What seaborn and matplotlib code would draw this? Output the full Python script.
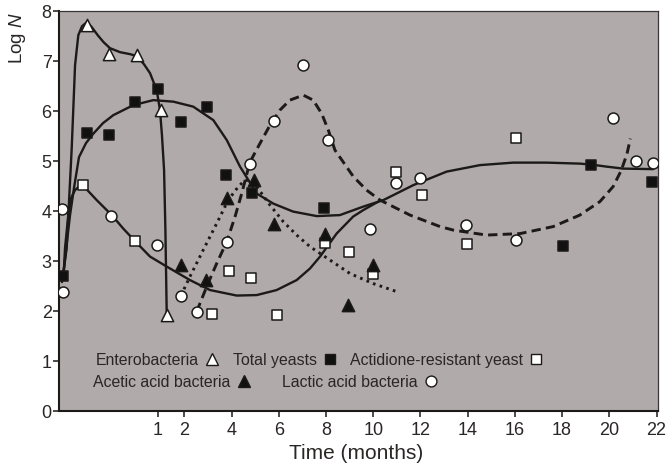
import numpy as np
import pandas as pd
import matplotlib
matplotlib.use("Agg")
import matplotlib.pyplot as plt
from matplotlib.lines import Line2D
import seaborn as sns

# ---------------- data (time in months, value = log N) ----------------
entero_t = [0.28, 0.51, 0.79, 1.11, 1.34]
entero_v = [7.72, 7.15, 7.13, 6.02, 1.92]

yeast_t = [0.04, 0.28, 0.51, 0.77, 1.02, 1.88, 2.95, 3.77, 4.85, 7.93, 18.05, 19.21, 21.79]
yeast_v = [2.70, 5.57, 5.52, 6.19, 6.45, 5.79, 6.09, 4.73, 4.37, 4.07, 3.31, 4.93, 4.59]

actid_t = [0.24, 0.77, 3.16, 3.91, 4.82, 5.94, 7.96, 8.99, 9.98, 10.95, 12.08, 13.96, 16.03]
actid_v = [4.53, 3.40, 1.95, 2.81, 2.66, 1.93, 3.37, 3.18, 2.74, 4.78, 4.32, 3.34, 5.47]

acetic_t = [1.88, 2.92, 3.82, 4.95, 5.81, 7.96, 8.95, 9.98]
acetic_v = [2.92, 2.63, 4.27, 4.63, 3.74, 3.55, 2.12, 2.92]

lactic_t = [0.03, 0.04, 0.53, 0.99, 1.87, 2.52, 3.80, 4.78, 5.80, 7.04, 8.10, 9.86,
            10.95, 11.98, 13.93, 16.03, 20.16, 21.13, 21.86]
lactic_v = [4.04, 2.39, 3.90, 3.32, 2.31, 1.99, 3.39, 4.94, 5.81, 6.92, 5.42, 3.65,
            4.57, 4.67, 3.72, 3.42, 5.87, 5.01, 4.97]

# fitted curves
c_entero_t = [0.027, 0.075, 0.126, 0.16, 0.193, 0.231, 0.28, 0.33, 0.39, 0.45, 0.515,
              0.617, 0.72, 0.79, 0.86, 0.922, 0.99, 1.086, 1.16, 1.24, 1.29, 1.34]
c_entero_v = [2.58, 3.26, 5.26, 6.92, 7.52, 7.70, 7.78, 7.68, 7.52, 7.38, 7.26,
              7.18, 7.14, 7.10, 6.94, 6.76, 6.42, 6.02, 5.52, 4.82, 3.62, 1.92]

c_yeast_t = [0.041, 0.068, 0.109, 0.149, 0.20, 0.271, 0.346, 0.444, 0.549, 0.752, 0.955,
             1.586, 2.38, 3.23, 3.80, 4.36, 5.07, 5.77, 6.61, 7.61, 8.59, 9.58, 10.43,
             11.70, 13.11, 14.52, 15.93, 17.34, 18.75, 19.25, 19.88, 20.59, 21.86]
c_yeast_v = [2.72, 3.22, 3.92, 4.46, 5.08, 5.36, 5.55, 5.76, 5.92, 6.12, 6.22,
             6.19, 6.09, 5.82, 5.42, 4.89, 4.35, 4.15, 3.99, 3.90, 3.92, 4.09, 4.22,
             4.52, 4.79, 4.92, 4.97, 4.97, 4.95, 4.93, 4.89, 4.85, 4.84]

c_actid_t = [0.041, 0.058, 0.091, 0.119, 0.16, 0.228, 0.38, 0.533, 0.65, 0.769, 0.922,
             1.34, 2.24, 3.09, 4.22, 5.07, 5.91, 6.76, 7.32, 7.75, 8.45, 9.15, 9.58, 10.29]
c_actid_v = [2.62, 3.26, 3.92, 4.26, 4.42, 4.54, 4.22, 3.92, 3.65, 3.40, 3.09,
             2.89, 2.62, 2.42, 2.31, 2.32, 2.42, 2.62, 2.85, 3.09, 3.55, 3.89, 4.02, 4.21]

c_acetic_t = [1.876, 2.24, 2.80, 3.37, 3.86, 4.29, 4.57, 4.92, 5.28, 5.63, 6.19, 6.76,
              7.32, 8.17, 9.02, 10.0, 10.99]
c_acetic_v = [2.31, 2.69, 3.22, 3.75, 4.22, 4.49, 4.62, 4.59, 4.35, 4.12, 3.79, 3.52,
              3.29, 3.02, 2.75, 2.55, 2.39]

c_lactic_t = [2.525, 2.95, 3.37, 3.80, 4.15, 4.43, 4.78, 5.20, 5.63, 6.05, 6.47, 7.04,
              7.46, 7.82, 8.10, 8.38, 9.16, 9.72, 10.29, 11.56, 12.83, 13.39, 14.80,
              16.22, 17.62, 18.75, 19.60, 20.16, 20.51, 20.75, 20.89]
c_lactic_v = [1.99, 2.49, 2.95, 3.39, 3.89, 4.35, 4.98, 5.35, 5.72, 6.02, 6.22, 6.32,
              6.22, 5.95, 5.62, 5.22, 4.69, 4.42, 4.22, 3.92, 3.69, 3.62, 3.52,
              3.55, 3.69, 3.92, 4.19, 4.49, 4.82, 5.15, 5.45]

x_ticks = [1, 2, 4, 6, 8, 10, 12, 14, 16, 18, 20, 22]
x_tick_labels = ["1", "2", "4", "6", "8", "10", "12", "14", "16", "18", "20", "22"]
y_ticks = [0, 1, 2, 3, 4, 5, 6, 7, 8]

legend_row1 = ["Enterobacteria", "Total yeasts", "Actidione-resistant yeast"]
legend_row2 = ["Acetic acid bacteria", "Lactic acid bacteria"]

# ---------------- style ----------------
sns.set_theme(style="white")
plt.rcParams["font.family"] = ["Liberation Sans", "DejaVu Sans"]
plt.rcParams["mathtext.fontset"] = "custom"
plt.rcParams["mathtext.it"] = "Liberation Sans:italic"
plt.rcParams["mathtext.rm"] = "Liberation Sans"

INK = "#1c1919"
TXT = "#2a2626"
BG = "#b0aaaa"

fig = plt.figure(figsize=(6.68, 4.66), dpi=100)
ax = fig.add_axes([0.0888, 0.118, 0.8962, 0.858])
ax.set_facecolor(BG)

# piecewise-linear time axis: the first month is stretched
KN_M = [-1.0, 0.0, 1.0, 2.0, 30.0]
KN_P = [-98.4, 0.0, 98.4, 125.0, 125.0 + 28 * 23.62]


def fwd(x):
    return np.interp(x, KN_M, KN_P)


def inv(p):
    return np.interp(p, KN_P, KN_M)


ax.set_xscale("function", functions=(fwd, inv))

# ---------------- curves ----------------
for t, v in [(c_entero_t, c_entero_v), (c_yeast_t, c_yeast_v), (c_actid_t, c_actid_v)]:
    sns.lineplot(x=t, y=v, ax=ax, sort=False, estimator=None, color=INK,
                 linewidth=1.7, zorder=2)

sns.lineplot(x=c_acetic_t, y=c_acetic_v, ax=ax, sort=False, estimator=None,
             color=INK, linewidth=2.1, zorder=2)
ax.lines[-1].set_dashes([0.9, 1.5])
sns.lineplot(x=c_lactic_t, y=c_lactic_v, ax=ax, sort=False, estimator=None,
             color=INK, linewidth=2.1, zorder=2)
ax.lines[-1].set_dashes([3.2, 1.8])

# ---------------- markers ----------------
MS = 62
MT = 78
EW = 1.1
sns.scatterplot(x=entero_t, y=entero_v, ax=ax, marker="^", s=MT, color="white",
                edgecolor=INK, linewidth=EW, zorder=4)
sns.scatterplot(x=yeast_t, y=yeast_v, ax=ax, marker="s", s=MS, color="#111111",
                edgecolor=INK, linewidth=EW, zorder=4)
sns.scatterplot(x=actid_t, y=actid_v, ax=ax, marker="s", s=MS, color="white",
                edgecolor=INK, linewidth=EW, zorder=4)
sns.scatterplot(x=acetic_t, y=acetic_v, ax=ax, marker="^", s=MT, color="#111111",
                edgecolor=INK, linewidth=EW, zorder=4)
sns.scatterplot(x=lactic_t, y=lactic_v, ax=ax, marker="o", s=MS, color="white",
                edgecolor=INK, linewidth=EW, zorder=4)

# ---------------- axes ----------------
ax.set_xlim(0, 22.06)
ax.set_ylim(0, 8)
ax.set_xticks(x_ticks)
ax.set_xticklabels(x_tick_labels)
ax.set_yticks(y_ticks)
ax.xaxis.set_minor_locator(matplotlib.ticker.NullLocator())
ax.tick_params(axis="both", which="major", direction="out", length=4, width=1.1,
               color=INK, labelsize=13, labelcolor=TXT, bottom=True, left=True)
ax.tick_params(axis="x", pad=4)
ax.tick_params(axis="y", pad=1.5)
for side in ["left", "bottom"]:
    ax.spines[side].set_color(INK)
    ax.spines[side].set_linewidth(1.5)
for side in ["top", "right"]:
    ax.spines[side].set_color("#3a3535")
    ax.spines[side].set_linewidth(0.9)

ax.set_xlabel("Time (months)", fontsize=15, color=TXT)
ax.xaxis.set_label_coords(0.496, -0.082)
ax.set_ylabel("Log $\\mathit{N}$", fontsize=13.5, color=TXT)
ax.yaxis.set_label_coords(-0.052, 0.934)

# ---------------- legend ----------------
def handle(marker, face, ms):
    return Line2D([], [], linestyle="none", marker=marker, markersize=ms,
                  markerfacecolor=face, markeredgecolor=INK, markeredgewidth=1.0)

h1 = [handle("^", "white", 8.5), handle("s", "#111111", 7.8), handle("s", "white", 7.8)]
h2 = [handle("^", "#111111", 8.5), handle("o", "white", 7.8)]
FS = 11.4
leg1 = ax.legend(h1, legend_row1, ncol=3, markerfirst=False, frameon=False,
                 loc="center left", bbox_to_anchor=(0.061, 0.1275),
                 fontsize=FS, handlelength=0.8, handletextpad=0.42,
                 columnspacing=0.9, borderpad=0, borderaxespad=0,
                 labelcolor=TXT)
ax.add_artist(leg1)
leg2 = ax.legend(h2, legend_row2, ncol=2, markerfirst=False, frameon=False,
                 loc="center left", bbox_to_anchor=(0.057, 0.0725),
                 fontsize=FS, handlelength=0.8, handletextpad=0.44,
                 columnspacing=2.0, borderpad=0, borderaxespad=0,
                 labelcolor=TXT)

fig.savefig("out.png", dpi=100, facecolor="white")
